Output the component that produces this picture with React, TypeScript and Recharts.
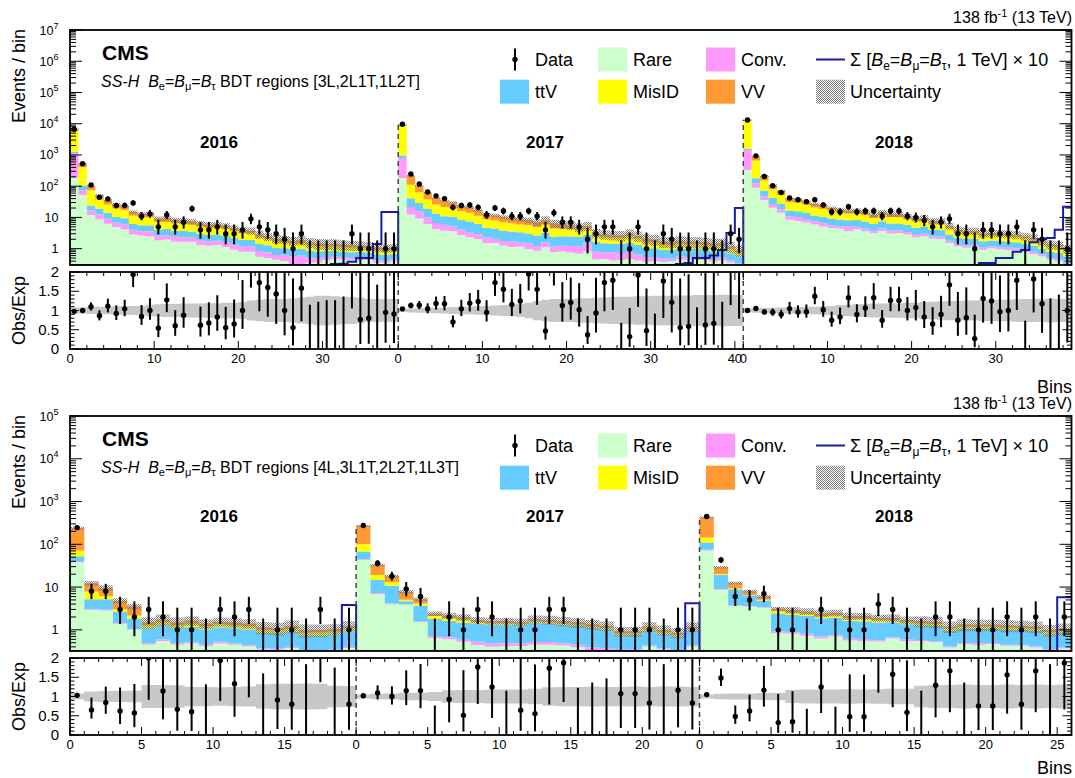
import React from "react";
import {
  ComposedChart,
  Area,
  Line,
  Scatter,
  XAxis,
  YAxis,
  ErrorBar,
  ReferenceLine,
} from "recharts";

// ---------- upper figure: SS-H BDT regions [3L,2L1T,1L2T] ----------
// totals = height of the full stack, layer arrays = share of the total
const up16Total = [6800, 520, 100, 51, 35, 26, 23, 15, 13, 13, 9.2, 9.4, 8.3, 8.0, 7.5, 6.5, 5.9, 6.0, 5.4, 4.6, 4.0, 3.8, 2.9, 2.5, 2.1, 2.0, 1.8, 1.9, 1.6, 1.5, 1.45, 1.45, 1.35, 1.3, 1.3, 1.25, 1.1, 1.05, 1.1];
const up16Data = [6650, 520, 110, 44, 39, 24, 24, 29, 11, 13, 5, 12, 5, 7, 19, 4, 4, 5, 3, 3, 4, 9, 5, 4, 3, 2, 1, 3, 0, 0, 0, 0, 0, 3, 1, 1, 0, 1, 1];
const up16Rare = [0.027, 0.1, 0.12, 0.17, 0.18, 0.19, 0.18, 0.19, 0.2, 0.19, 0.2, 0.21, 0.2, 0.21, 0.22, 0.2, 0.21, 0.22, 0.21, 0.2, 0.2, 0.21, 0.19, 0.2, 0.21, 0.2, 0.18, 0.17, 0.22, 0.24, 0.3, 0.32, 0.33, 0.34, 0.32, 0.35, 0.33, 0.34, 0.36];
const up16Conv = [0.14, 0.04, 0.05, 0.08, 0.08, 0.07, 0.08, 0.08, 0.08, 0.09, 0.08, 0.08, 0.09, 0.08, 0.08, 0.09, 0.08, 0.08, 0.09, 0.1, 0.09, 0.1, 0.1, 0.1, 0.09, 0.11, 0.14, 0.15, 0.1, 0.09, 0.07, 0.06, 0.06, 0.05, 0.06, 0.05, 0.06, 0.05, 0.05];
const up16Ttv = [0.02, 0.06, 0.07, 0.13, 0.14, 0.14, 0.15, 0.14, 0.15, 0.15, 0.16, 0.16, 0.16, 0.17, 0.16, 0.17, 0.17, 0.16, 0.18, 0.18, 0.19, 0.2, 0.2, 0.21, 0.2, 0.21, 0.2, 0.21, 0.22, 0.21, 0.21, 0.2, 0.21, 0.2, 0.22, 0.2, 0.21, 0.22, 0.2];
const up16MisID = [0.63, 0.58, 0.5, 0.36, 0.34, 0.34, 0.33, 0.34, 0.33, 0.33, 0.32, 0.31, 0.32, 0.31, 0.31, 0.3, 0.31, 0.31, 0.29, 0.3, 0.3, 0.29, 0.3, 0.29, 0.3, 0.29, 0.28, 0.27, 0.27, 0.27, 0.24, 0.24, 0.23, 0.24, 0.23, 0.23, 0.24, 0.22, 0.23];
const up16Unc = [0.08, 0.08, 0.09, 0.1, 0.1, 0.11, 0.11, 0.12, 0.12, 0.15, 0.16, 0.17, 0.17, 0.18, 0.18, 0.18, 0.19, 0.19, 0.2, 0.2, 0.22, 0.26, 0.28, 0.3, 0.3, 0.3, 0.32, 0.34, 0.36, 0.38, 0.38, 0.37, 0.36, 0.35, 0.33, 0.3, 0.3, 0.29, 0.3];
const up16Signal = [0, 0, 0, 0, 0, 0, 0, 0, 0, 0, 0, 0, 0, 0, 0, 0, 0, 0, 0, 0, 0, 0, 0, 0, 0, 0, 0, 0, 0, 0, 0, 0.32, 0.33, 0.38, 0.5, 0.5, 1.4, 15, 15];

const up17Total = [9200, 217, 103, 62, 41.5, 34, 30, 23, 21, 17, 12.6, 11.6, 10.3, 9.5, 8.8, 8.2, 7.1, 8.5, 6.5, 6.2, 5.8, 4.9, 5.4, 3.2, 2.9, 2.8, 2.7, 3.1, 2.6, 2.1, 2.0, 1.7, 1.65, 1.8, 1.7, 1.7, 1.6, 1.5, 1.5, 1.2, 0.9];
const up17Data = [9600, 245, 117, 65, 49, 40, 21, 24, 25, 21, 12, 20, 16, 11, 11, 16, 11, 4, 14, 7, 7, 5, 2, 3, 5, 5, 0, 1, 5, 1, 0, 3, 2, 1, 1, 0, 1, 1, 0, 3, 2];
const up17Rare = [0.02, 0.057, 0.09, 0.1, 0.1, 0.11, 0.12, 0.12, 0.11, 0.12, 0.12, 0.13, 0.12, 0.12, 0.13, 0.12, 0.12, 0.13, 0.12, 0.13, 0.13, 0.14, 0.15, 0.14, 0.16, 0.15, 0.16, 0.15, 0.16, 0.18, 0.2, 0.22, 0.24, 0.25, 0.26, 0.25, 0.27, 0.26, 0.28, 0.3, 0.32];
const up17Conv = [0.065, 0.043, 0.06, 0.06, 0.06, 0.06, 0.05, 0.06, 0.05, 0.05, 0.06, 0.05, 0.05, 0.06, 0.05, 0.06, 0.05, 0.06, 0.06, 0.07, 0.08, 0.1, 0.12, 0.11, 0.1, 0.12, 0.11, 0.1, 0.09, 0.08, 0.07, 0.06, 0.05, 0.06, 0.05, 0.06, 0.05, 0.05, 0.06, 0.05, 0.05];
const up17Ttv = [0.02, 0.09, 0.13, 0.14, 0.15, 0.15, 0.18, 0.19, 0.19, 0.19, 0.19, 0.2, 0.19, 0.19, 0.2, 0.19, 0.2, 0.2, 0.19, 0.2, 0.21, 0.24, 0.25, 0.26, 0.25, 0.25, 0.26, 0.25, 0.26, 0.25, 0.25, 0.25, 0.26, 0.24, 0.25, 0.26, 0.25, 0.24, 0.25, 0.24, 0.25];
const up17MisID = [0.83, 0.32, 0.33, 0.32, 0.32, 0.31, 0.31, 0.31, 0.32, 0.31, 0.31, 0.31, 0.32, 0.31, 0.3, 0.31, 0.31, 0.3, 0.31, 0.3, 0.3, 0.29, 0.28, 0.3, 0.29, 0.28, 0.29, 0.3, 0.29, 0.28, 0.27, 0.26, 0.25, 0.26, 0.25, 0.24, 0.25, 0.26, 0.24, 0.22, 0.22];
const up17Unc = [0.04, 0.05, 0.06, 0.06, 0.07, 0.08, 0.09, 0.1, 0.1, 0.11, 0.12, 0.13, 0.14, 0.15, 0.17, 0.2, 0.25, 0.28, 0.3, 0.3, 0.3, 0.32, 0.32, 0.33, 0.34, 0.35, 0.36, 0.36, 0.37, 0.37, 0.38, 0.38, 0.38, 0.39, 0.39, 0.4, 0.4, 0.4, 0.41, 0.4, 0.4];
const up17Signal = [0, 0, 0, 0, 0, 0, 0, 0, 0, 0, 0, 0, 0, 0, 0, 0, 0, 0, 0, 0, 0, 0, 0, 0, 0, 0, 0, 0, 0, 0, 0, 0, 0, 0.32, 0.35, 0.5, 0.5, 0.6, 0.9, 3.2, 20];

const up18Total = [13200, 890, 212, 108, 70, 40, 38.5, 33, 27, 24.5, 20, 18, 16.5, 16.7, 15, 12, 14.7, 12.7, 12.7, 11, 9.3, 9.6, 7.7, 7.8, 5.4, 4.0, 3.7, 3.7, 3.05, 3.2, 3.1, 3.0, 2.8, 2.5, 2.2, 1.7, 1.4, 1.3, 1.0];
const up18Data = [13200, 935, 204, 103, 63, 42, 37, 32, 37, 25, 15, 15, 22, 15, 16, 16, 11, 16, 16, 11, 10, 8, 5, 7, 9, 3, 3, 1, 4, 4, 3, 3, 5, 0, 4, 2, 0, 0, 1];
const up18Rare = [0.025, 0.1, 0.17, 0.19, 0.2, 0.21, 0.2, 0.21, 0.22, 0.21, 0.23, 0.24, 0.22, 0.25, 0.24, 0.26, 0.25, 0.24, 0.25, 0.26, 0.25, 0.26, 0.27, 0.26, 0.28, 0.3, 0.29, 0.31, 0.3, 0.32, 0.31, 0.3, 0.32, 0.31, 0.3, 0.33, 0.32, 0.31, 0.3];
const up18Conv = [0.085, 0.04, 0.05, 0.06, 0.06, 0.06, 0.07, 0.06, 0.06, 0.06, 0.05, 0.05, 0.09, 0.05, 0.05, 0.05, 0.05, 0.06, 0.05, 0.05, 0.05, 0.05, 0.05, 0.05, 0.05, 0.06, 0.05, 0.05, 0.06, 0.05, 0.05, 0.06, 0.05, 0.05, 0.06, 0.05, 0.04, 0.05, 0.05];
const up18Ttv = [0.01, 0.06, 0.12, 0.14, 0.14, 0.15, 0.14, 0.15, 0.15, 0.16, 0.18, 0.19, 0.18, 0.2, 0.19, 0.2, 0.21, 0.2, 0.2, 0.21, 0.2, 0.21, 0.2, 0.21, 0.2, 0.2, 0.21, 0.2, 0.21, 0.2, 0.21, 0.2, 0.2, 0.21, 0.2, 0.2, 0.21, 0.2, 0.22];
const up18MisID = [0.83, 0.55, 0.38, 0.35, 0.35, 0.34, 0.35, 0.34, 0.34, 0.33, 0.32, 0.31, 0.3, 0.31, 0.31, 0.3, 0.3, 0.31, 0.3, 0.3, 0.31, 0.3, 0.3, 0.31, 0.3, 0.29, 0.3, 0.29, 0.28, 0.28, 0.29, 0.29, 0.28, 0.28, 0.29, 0.28, 0.29, 0.3, 0.28];
const up18Unc = [0.05, 0.06, 0.07, 0.07, 0.08, 0.08, 0.09, 0.1, 0.1, 0.11, 0.12, 0.14, 0.15, 0.16, 0.17, 0.18, 0.18, 0.19, 0.19, 0.2, 0.2, 0.22, 0.23, 0.24, 0.25, 0.25, 0.26, 0.26, 0.27, 0.27, 0.28, 0.28, 0.29, 0.3, 0.3, 0.3, 0.31, 0.3, 0.3];
const up18Signal = [0, 0, 0, 0, 0, 0, 0, 0, 0, 0, 0, 0, 0, 0, 0, 0, 0, 0, 0, 0, 0, 0, 0, 0, 0, 0, 0, 0, 0.35, 0.35, 0.5, 0.5, 0.8, 0.9, 1.6, 2.0, 2.2, 4.0, 22];

// ---------- lower figure: SS-H BDT regions [4L,3L1T,2L2T,1L3T] ----------
const lo16Total = [238, 12.3, 9.5, 4.8, 3.5, 1.5, 1.75, 1.5, 1.65, 1.4, 1.55, 1.5, 1.4, 1.15, 1.1, 1.25, 1.0, 1.0, 1.05, 1.25];
const lo16Data = [245, 8, 8, 3, 2, 3, 2, 1, 1, 0, 3, 2, 3, 0, 1, 1, 0, 3, 0, 1];
const lo16Rare = [0.16, 0.24, 0.3, 0.29, 0.29, 0.3, 0.31, 0.3, 0.29, 0.3, 0.31, 0.3, 0.29, 0.3, 0.31, 0.3, 0.29, 0.3, 0.31, 0.3];
const lo16Conv = [0.005, 0.01, 0.01, 0.01, 0.01, 0.02, 0.03, 0.02, 0.02, 0.02, 0.03, 0.02, 0.02, 0.02, 0.03, 0.02, 0.02, 0.02, 0.02, 0.02];
const lo16Ttv = [0.055, 0.17, 0.24, 0.25, 0.22, 0.4, 0.39, 0.41, 0.4, 0.42, 0.4, 0.41, 0.42, 0.41, 0.42, 0.4, 0.43, 0.42, 0.41, 0.42];
const lo16MisID = [0.08, 0.22, 0.1, 0.08, 0.1, 0.13, 0.13, 0.12, 0.13, 0.12, 0.13, 0.12, 0.12, 0.13, 0.12, 0.12, 0.12, 0.13, 0.12, 0.12];
const lo16Unc = [0.08, 0.13, 0.14, 0.14, 0.15, 0.3, 0.3, 0.29, 0.25, 0.25, 0.24, 0.25, 0.26, 0.32, 0.33, 0.33, 0.34, 0.33, 0.28, 0.27];
const lo16Signal = [0, 0, 0, 0, 0, 0, 0, 0, 0, 0, 0, 0, 0, 0, 0, 0, 0, 0, 0, 3.8];

const lo17Total = [270, 33, 18, 7.8, 5.2, 2.4, 2.15, 1.96, 1.7, 1.6, 1.6, 1.55, 1.8, 1.73, 1.6, 1.5, 1.35, 1.25, 0.93, 0.93, 1.2, 1.0, 0.86, 1.2];
const lo17Data = [275, 36, 18, 9, 6, 0, 2, 1, 3, 2, 0, 1, 1, 3, 3, 0, 0, 0, 1, 1, 1, 0, 1, 1];
const lo17Rare = [0.16, 0.21, 0.22, 0.5, 0.29, 0.27, 0.28, 0.27, 0.26, 0.25, 0.26, 0.27, 0.25, 0.26, 0.27, 0.26, 0.25, 0.26, 0.35, 0.36, 0.34, 0.35, 0.36, 0.34];
const lo17Conv = [0.005, 0.01, 0.01, 0.01, 0.01, 0.03, 0.03, 0.03, 0.05, 0.05, 0.04, 0.04, 0.04, 0.04, 0.03, 0.04, 0.04, 0.04, 0.02, 0.02, 0.02, 0.02, 0.02, 0.02];
const lo17Ttv = [0.085, 0.23, 0.37, 0.09, 0.4, 0.45, 0.45, 0.46, 0.51, 0.52, 0.52, 0.53, 0.52, 0.51, 0.52, 0.52, 0.53, 0.52, 0.43, 0.44, 0.43, 0.42, 0.43, 0.44];
const lo17MisID = [0.12, 0.13, 0.13, 0.05, 0.09, 0.13, 0.12, 0.13, 0.06, 0.06, 0.07, 0.06, 0.07, 0.06, 0.06, 0.07, 0.06, 0.06, 0.08, 0.08, 0.09, 0.08, 0.08, 0.08];
const lo17Unc = [0.05, 0.07, 0.08, 0.1, 0.1, 0.12, 0.16, 0.17, 0.17, 0.18, 0.18, 0.18, 0.2, 0.24, 0.25, 0.25, 0.26, 0.25, 0.25, 0.26, 0.25, 0.26, 0.26, 0.25];
const lo17Signal = [0, 0, 0, 0, 0, 0, 0, 0, 0, 0, 0, 0, 0, 0, 0, 0, 0, 0, 0, 0, 0, 0, 0, 4.2];

const lo18Total = [424, 29, 12.5, 8, 6, 3.1, 2.9, 2.7, 2.4, 2.5, 2.1, 2.1, 1.9, 1.9, 1.7, 1.6, 1.55, 1.2, 1.35, 1.33, 1.33, 1.28, 1.25, 1.2, 1.0, 1.07];
const lo18Data = [445, 43, 6, 5, 7, 1, 1, 0, 3, 0, 1, 1, 4, 3, 1, 0, 2, 2, 0, 1, 1, 2, 1, 2, 0, 2];
const lo18Rare = [0.17, 0.3, 0.29, 0.44, 0.55, 0.27, 0.28, 0.27, 0.26, 0.28, 0.27, 0.26, 0.28, 0.33, 0.32, 0.34, 0.33, 0.32, 0.34, 0.33, 0.35, 0.33, 0.34, 0.32, 0.33, 0.34];
const lo18Conv = [0.005, 0.01, 0.01, 0.01, 0.01, 0.03, 0.02, 0.03, 0.03, 0.02, 0.03, 0.03, 0.02, 0.02, 0.03, 0.02, 0.02, 0.02, 0.02, 0.03, 0.02, 0.02, 0.02, 0.02, 0.02, 0.02];
const lo18Ttv = [0.085, 0.36, 0.41, 0.35, 0.25, 0.48, 0.47, 0.48, 0.49, 0.47, 0.48, 0.47, 0.48, 0.44, 0.45, 0.43, 0.44, 0.45, 0.43, 0.44, 0.42, 0.44, 0.43, 0.45, 0.44, 0.43];
const lo18MisID = [0.08, 0.03, 0.04, 0.02, 0.03, 0.1, 0.1, 0.1, 0.09, 0.1, 0.1, 0.11, 0.1, 0.09, 0.09, 0.09, 0.09, 0.1, 0.09, 0.09, 0.1, 0.09, 0.09, 0.09, 0.1, 0.09];
const lo18Unc = [0.05, 0.07, 0.08, 0.08, 0.09, 0.1, 0.17, 0.18, 0.18, 0.18, 0.19, 0.18, 0.19, 0.2, 0.2, 0.28, 0.3, 0.3, 0.31, 0.3, 0.3, 0.31, 0.3, 0.31, 0.3, 0.31];
const lo18Signal = [0, 0, 0, 0, 0, 0, 0, 0, 0, 0, 0, 0, 0, 0, 0, 0, 0, 0, 0, 0, 0, 0, 0, 0, 0, 5.8];

const FONT = "'Liberation Sans', Arial, Helvetica, sans-serif";
const W = 1075;
const PLOT_L = 70;
const PLOT_R = 1071.5;
const MAIN_H = 235;
const RATIO_H = 77;
const PAD = 12; // room above each plot so the top tick label is not clipped

const COLORS = {
  rare: "#ccffcc",
  conv: "#ff99ff",
  ttv: "#66ccff",
  misid: "#ffff00",
  vv: "#ff9933",
  signal: "#1a1aa8",
  band: "#c8c8c8",
};

// 68% Poisson intervals for small counts
const POIS_LO = [0, 0.83, 1.29, 1.63, 1.91, 2.16, 2.38, 2.58, 2.77, 2.94, 3.11];
const POIS_HI = [1.84, 2.3, 2.64, 2.92, 3.16, 3.38, 3.58, 3.77, 3.95, 4.11, 4.27];
function poisson(n: number) {
  if (n <= 10) return [POIS_LO[n], POIS_HI[n]];
  const s = Math.sqrt(n + 0.25);
  return [s - 0.5, s + 0.5];
}

type Seg = {
  total: number[];
  data: number[];
  rare: number[];
  conv: number[];
  ttv: number[];
  misid: number[];
  unc: number[];
  signal: number[];
};

function buildPanel(segs: Seg[], yMin: number, yMax: number, major: number, minor: number) {
  const hist: any[] = [];
  const points: any[] = [];
  const ratio: any[] = [];
  const offsets: number[] = [];
  const xTicks: number[] = [];
  const xLabels = new Map<number, string>();
  let off = 0;
  segs.forEach((s) => {
    offsets.push(off);
    for (let k = 0; k < s.total.length; k += minor) {
      xTicks.push(off + k);
      if (k % major === 0) xLabels.set(off + k, String(k));
    }
    s.total.forEach((t, i) => {
      const c1 = t * s.rare[i];
      const c2 = c1 + t * s.conv[i];
      const c3 = c2 + t * s.ttv[i];
      const c4 = c3 + t * s.misid[i];
      hist.push({
        x: off + i,
        rare: [yMin, c1],
        conv: [c1, c2],
        ttv: [c2, c3],
        misid: [c3, c4],
        vv: [c4, t],
        unc: [t * (1 - s.unc[i]), t * (1 + s.unc[i])],
        band: [1 - s.unc[i], 1 + s.unc[i]],
        signal: Math.max(s.signal[i], yMin),
      });
      const n = s.data[i];
      const [pl, ph] = poisson(n);
      const xc = off + i + 0.5;
      if (n > 0) {
        points.push({ x: xc, y: n, err: [Math.min(pl, n - yMin), ph], show: true });
        const r = n / t;
        const lo = (n - pl) / t;
        const hi = Math.min((n + ph) / t, 2);
        if (lo < 2) ratio.push({ x: xc, y: r, err: [r - lo, hi - r], show: r <= 2 });
      } else {
        points.push({ x: xc, y: yMin, err: [0, ph - yMin], show: false });
        ratio.push({ x: xc, y: 0, err: [0, Math.min(ph / t, 2)], show: false });
      }
    });
    off += s.total.length;
  });
  hist.push({ ...hist[hist.length - 1], x: off });
  const yTicks: number[] = [];
  for (let e = Math.floor(Math.log10(yMin)); e <= Math.ceil(Math.log10(yMax)); e++) {
    for (let m = 1; m < 10; m++) {
      const v = m * Math.pow(10, e);
      if (v >= yMin * 0.999 && v <= yMax * 1.001) yTicks.push(v);
    }
  }
  const dashTops = segs.slice(1).map((s) => s.total[0]);
  return { hist, points, ratio, offsets, n: off, xTicks, xLabels, yTicks, yMin, yMax, dashTops };
}

const upper = buildPanel(
  [
    { total: up16Total, data: up16Data, rare: up16Rare, conv: up16Conv, ttv: up16Ttv, misid: up16MisID, unc: up16Unc, signal: up16Signal },
    { total: up17Total, data: up17Data, rare: up17Rare, conv: up17Conv, ttv: up17Ttv, misid: up17MisID, unc: up17Unc, signal: up17Signal },
    { total: up18Total, data: up18Data, rare: up18Rare, conv: up18Conv, ttv: up18Ttv, misid: up18MisID, unc: up18Unc, signal: up18Signal },
  ],
  0.3,
  1e7,
  10,
  2
);

const lower = buildPanel(
  [
    { total: lo16Total, data: lo16Data, rare: lo16Rare, conv: lo16Conv, ttv: lo16Ttv, misid: lo16MisID, unc: lo16Unc, signal: lo16Signal },
    { total: lo17Total, data: lo17Data, rare: lo17Rare, conv: lo17Conv, ttv: lo17Ttv, misid: lo17MisID, unc: lo17Unc, signal: lo17Signal },
    { total: lo18Total, data: lo18Data, rare: lo18Rare, conv: lo18Conv, ttv: lo18Ttv, misid: lo18MisID, unc: lo18Unc, signal: lo18Signal },
  ],
  0.32,
  1e5,
  5,
  1
);

const ratioTicks: number[] = [];
for (let k = 0; k <= 20; k++) ratioTicks.push(k / 10);

const dataDot = (p: any) =>
  p.payload.show ? <circle cx={p.cx} cy={p.cy} r={2.7} fill="#000" /> : <g />;

const logTick = (p: any) => {
  const v = p.payload.value;
  const e = Math.round(Math.log10(v));
  const major = Math.abs(v / Math.pow(10, e) - 1) < 1e-6;
  const len = major ? 12 : 6;
  const y = p.y;
  return (
    <g>
      <line x1={PLOT_L} x2={PLOT_L + len} y1={y} y2={y} stroke="#000" />
      <line x1={PLOT_R} x2={PLOT_R - len} y1={y} y2={y} stroke="#000" />
      {major && (
        <text x={58.5} y={y + 4.5} textAnchor="end" fontSize={12.5} fontFamily={FONT} fill="#000">
          {e === 0 ? "1" : "10"}
          {e > 1 && (
            <tspan dy={-6} fontSize={9}>
              {e}
            </tspan>
          )}
        </text>
      )}
    </g>
  );
};

const ratioYTick = (p: any) => {
  const v = p.payload.value;
  const major = Math.abs(v * 2 - Math.round(v * 2)) < 1e-6;
  const len = major ? 9 : 4.5;
  const y = p.y;
  return (
    <g>
      <line x1={PLOT_L} x2={PLOT_L + len} y1={y} y2={y} stroke="#000" />
      <line x1={PLOT_R} x2={PLOT_R - len} y1={y} y2={y} stroke="#000" />
      {major && (
        <text x={59} y={y + 5} textAnchor="end" fontSize={15} fontFamily={FONT} fill="#000">
          {String(v)}
        </text>
      )}
    </g>
  );
};

function makeXTick(labels: Map<number, string>, plotTop: number, plotBottom: number, showLabels: boolean) {
  return (p: any) => {
    const v = p.payload.value;
    const lab = labels.get(v);
    const major = lab !== undefined;
    const len = major ? 8 : 4;
    const x = p.x;
    return (
      <g>
        <line x1={x} x2={x} y1={plotBottom} y2={plotBottom - len} stroke="#000" />
        <line x1={x} x2={x} y1={plotTop} y2={plotTop + len} stroke="#000" />
        {showLabels && major && (
          <text x={x} y={plotBottom + 14} textAnchor="middle" fontSize={13} fontFamily={FONT} fill="#000">
            {lab}
          </text>
        )}
      </g>
    );
  };
}

function MainChart({ panel, top }: { panel: any; top: number }) {
  const xTick = makeXTick(panel.xLabels, PAD, PAD + MAIN_H, false);
  return (
    <div style={{ position: "absolute", left: 0, top: top - PAD }}>
      <ComposedChart width={W} height={MAIN_H + PAD} data={panel.hist} margin={{ top: PAD, right: W - PLOT_R, bottom: 0, left: 0 }}>
        <XAxis type="number" dataKey="x" domain={[0, panel.n]} allowDataOverflow ticks={panel.xTicks} interval={0} height={0} axisLine={false} tickLine={false} tick={xTick} />
        <YAxis type="number" scale="log" domain={[panel.yMin, panel.yMax]} allowDataOverflow ticks={panel.yTicks} interval={0} width={PLOT_L} axisLine={false} tickLine={false} tick={logTick} />
        <Area dataKey="rare" type="stepAfter" stroke="none" fill={COLORS.rare} fillOpacity={1} isAnimationActive={false} />
        <Area dataKey="conv" type="stepAfter" stroke="none" fill={COLORS.conv} fillOpacity={1} isAnimationActive={false} />
        <Area dataKey="ttv" type="stepAfter" stroke="none" fill={COLORS.ttv} fillOpacity={1} isAnimationActive={false} />
        <Area dataKey="misid" type="stepAfter" stroke="none" fill={COLORS.misid} fillOpacity={1} isAnimationActive={false} />
        <Area dataKey="vv" type="stepAfter" stroke="none" fill={COLORS.vv} fillOpacity={1} isAnimationActive={false} />
        <Area dataKey="unc" type="stepAfter" stroke="none" fill="url(#unc-hatch)" fillOpacity={1} isAnimationActive={false} />
        <Line dataKey="signal" type="stepAfter" stroke={COLORS.signal} strokeWidth={2} dot={false} isAnimationActive={false} />
        {panel.offsets.slice(1).map((o: number, i: number) => (
          <ReferenceLine
            key={o}
            segment={[
              { x: o, y: panel.yMin },
              { x: o, y: panel.dashTops[i] },
            ]}
            stroke="#444"
            strokeWidth={1.5}
            strokeDasharray="5 4"
            ifOverflow="visible"
          />
        ))}
        <Scatter data={panel.points} dataKey="y" shape={dataDot} isAnimationActive={false}>
          <ErrorBar dataKey="err" direction="y" width={0} stroke="#000" strokeWidth={2} />
        </Scatter>
      </ComposedChart>
    </div>
  );
}

function RatioChart({ panel, top }: { panel: any; top: number }) {
  const xTick = makeXTick(panel.xLabels, PAD, PAD + RATIO_H, true);
  return (
    <div style={{ position: "absolute", left: 0, top: top - PAD }}>
      <ComposedChart width={W} height={RATIO_H + PAD + 24} data={panel.hist} margin={{ top: PAD, right: W - PLOT_R, bottom: 0, left: 0 }}>
        <XAxis type="number" dataKey="x" domain={[0, panel.n]} allowDataOverflow ticks={panel.xTicks} interval={0} height={24} axisLine={false} tickLine={false} tick={xTick} />
        <YAxis type="number" domain={[0, 2]} allowDataOverflow ticks={ratioTicks} interval={0} width={PLOT_L} axisLine={false} tickLine={false} tick={ratioYTick} />
        <Area dataKey="band" type="stepAfter" stroke="none" fill={COLORS.band} fillOpacity={1} isAnimationActive={false} />
        {panel.offsets.slice(1).map((o: number) => (
          <ReferenceLine key={o} x={o} stroke="#444" strokeWidth={1.5} strokeDasharray="5 4" />
        ))}
        <Scatter data={panel.ratio} dataKey="y" shape={dataDot} isAnimationActive={false}>
          <ErrorBar dataKey="err" direction="y" width={0} stroke="#000" strokeWidth={2} />
        </Scatter>
      </ComposedChart>
    </div>
  );
}

function Legend({ y0 }: { y0: number }) {
  const r2 = y0 + 32.2;
  const fs = 18;
  const box = (x: number, y: number, fill: string) => <rect x={x} y={y - 12} width={29} height={24} fill={fill} />;
  const label = (x: number, y: number, t: any) => (
    <text x={x} y={y + 6.5} fontSize={fs} fontFamily={FONT} fill="#000">
      {t}
    </text>
  );
  return (
    <g>
      <line x1={515} x2={515} y1={y0 - 11} y2={y0 + 11} stroke="#000" strokeWidth={2} />
      <circle cx={515} cy={y0} r={2.7} fill="#000" />
      {label(535, y0, "Data")}
      {box(598, y0, COLORS.rare)}
      {label(633, y0, "Rare")}
      {box(706, y0, COLORS.conv)}
      {label(741, y0, "Conv.")}
      <line x1={816} x2={845} y1={y0} y2={y0} stroke={COLORS.signal} strokeWidth={2} />
      <text x={850} y={y0 + 6.5} fontSize={fs} fontFamily={FONT} fill="#000">
        {"Σ ["}
        <tspan fontStyle="italic">B</tspan>
        <tspan dy={4} fontSize={12}>e</tspan>
        <tspan dy={-4}>=</tspan>
        <tspan fontStyle="italic">B</tspan>
        <tspan dy={4} fontSize={12}>μ</tspan>
        <tspan dy={-4}>=</tspan>
        <tspan fontStyle="italic">B</tspan>
        <tspan dy={4} fontSize={12}>τ</tspan>
        <tspan dy={-4}>, 1 TeV] × 10</tspan>
      </text>
      {box(500, r2, COLORS.ttv)}
      {label(535, r2, "ttV")}
      {box(598, r2, COLORS.misid)}
      {label(633, r2, "MisID")}
      {box(706, r2, COLORS.vv)}
      {label(741, r2, "VV")}
      {box(816, r2, "url(#unc-hatch)")}
      {label(850, r2, "Uncertainty")}
    </g>
  );
}

function Labels({ dy, regions }: { dy: number; regions: string }) {
  return (
    <g fontFamily={FONT} fill="#000">
      <text x={1072} y={23 + dy} textAnchor="end" fontSize={16}>
        138 fb
        <tspan dy={-6} fontSize={11}>-1</tspan>
        <tspan dy={6}> (13 TeV)</tspan>
      </text>
      <text x={102} y={60 + dy} fontSize={21} fontWeight="bold">
        CMS
      </text>
      <text x={101} y={86.5 + dy} fontSize={16}>
        <tspan fontStyle="italic">SS-H</tspan>
        <tspan>{"\u00a0\u00a0"}</tspan>
        <tspan fontStyle="italic">B</tspan>
        <tspan dy={3.5} fontSize={11}>e</tspan>
        <tspan dy={-3.5}>=</tspan>
        <tspan fontStyle="italic">B</tspan>
        <tspan dy={3.5} fontSize={11}>μ</tspan>
        <tspan dy={-3.5}>=</tspan>
        <tspan fontStyle="italic">B</tspan>
        <tspan dy={3.5} fontSize={11}>τ</tspan>
        <tspan dy={-3.5}>{" BDT regions " + regions}</tspan>
      </text>
      <text x={219} y={148 + dy * 0.969} textAnchor="middle" fontSize={17} fontWeight="bold">2016</text>
      <text x={545} y={148 + dy * 0.969} textAnchor="middle" fontSize={17} fontWeight="bold">2017</text>
      <text x={894} y={148 + dy * 0.969} textAnchor="middle" fontSize={17} fontWeight="bold">2018</text>
      <text transform={`translate(25,${29 + dy}) rotate(-90)`} textAnchor="end" fontSize={18}>
        Events / bin
      </text>
    </g>
  );
}

export default function App() {
  const frames = [
    [30, MAIN_H],
    [272, RATIO_H],
    [416, MAIN_H],
    [658, RATIO_H],
  ];
  return (
    <div
      style={{
        position: "absolute",
        left: 0,
        top: 0,
        width: W,
        height: 778,
        background: "#fff",
        overflow: "hidden",
        fontFamily: FONT,
      }}
    >
      <svg width={0} height={0} style={{ position: "absolute" }}>
        <defs>
          <pattern id="unc-hatch" patternUnits="userSpaceOnUse" width={2} height={2}>
            <rect x={0} y={0} width={1} height={1} fill="#7a7a7a" />
            <rect x={1} y={1} width={1} height={1} fill="#7a7a7a" />
          </pattern>
        </defs>
      </svg>
      <MainChart panel={upper} top={30} />
      <RatioChart panel={upper} top={272} />
      <MainChart panel={lower} top={416} />
      <RatioChart panel={lower} top={658} />
      <svg width={W} height={778} style={{ position: "absolute", left: 0, top: 0, pointerEvents: "none" }}>
        {frames.map(([y, h]) => (
          <rect key={y} x={PLOT_L} y={y} width={PLOT_R - PLOT_L} height={h} fill="none" stroke="#000" strokeWidth={1.8} />
        ))}
        <Labels dy={0} regions="[3L,2L1T,1L2T]" />
        <Labels dy={386} regions="[4L,3L1T,2L2T,1L3T]" />
        <Legend y0={59.5} />
        <Legend y0={445.5} />
        <g fontFamily={FONT} fill="#000" fontSize={18}>
          <text transform="translate(25,310.5) rotate(-90)" textAnchor="middle">Obs/Exp</text>
          <text transform="translate(25,696.5) rotate(-90)" textAnchor="middle">Obs/Exp</text>
          <text x={1072} y={393} textAnchor="end">Bins</text>
          <text x={1072} y={774} textAnchor="end">Bins</text>
        </g>
      </svg>
    </div>
  );
}
